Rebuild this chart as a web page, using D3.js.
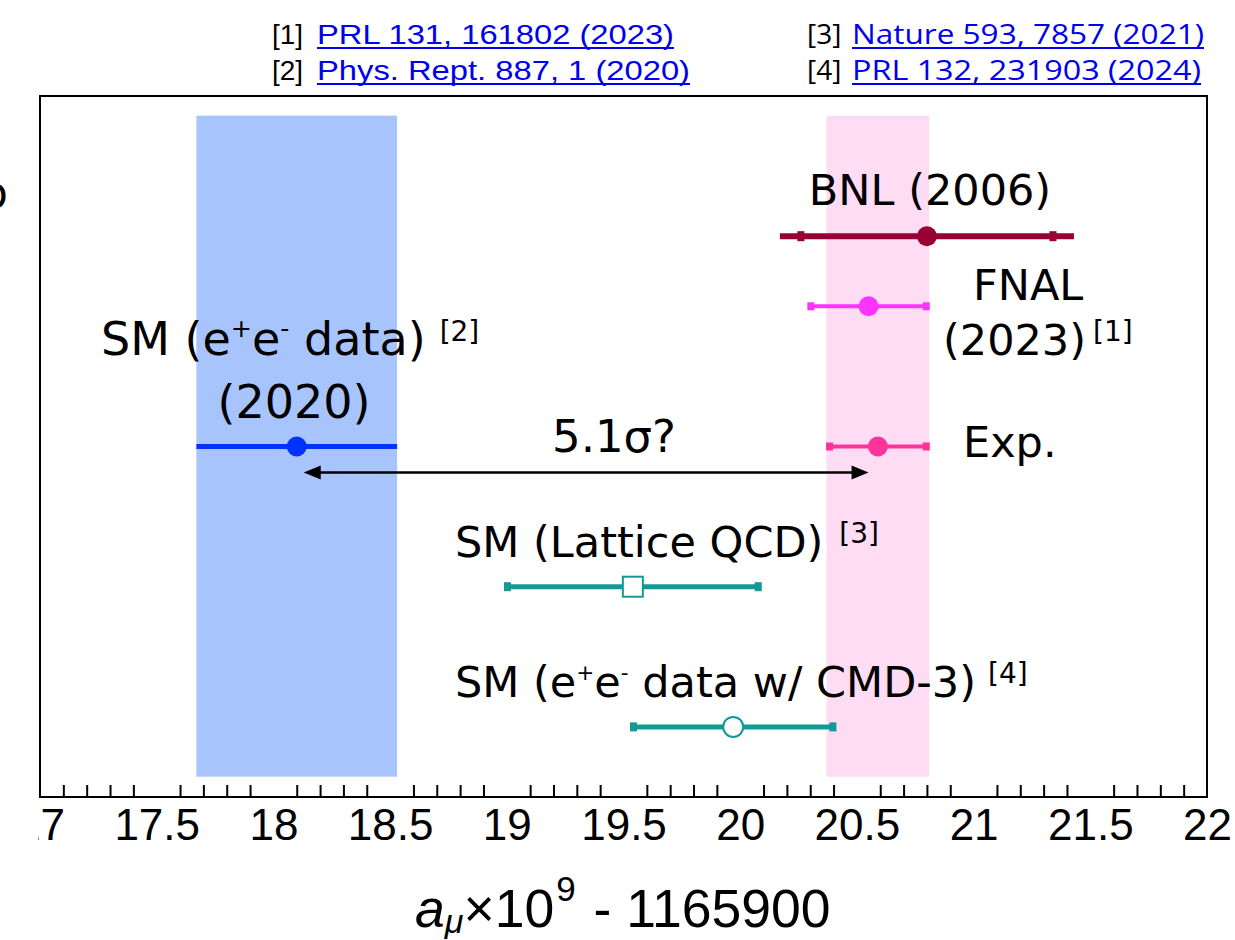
<!DOCTYPE html>
<html><head><meta charset="utf-8">
<script src="https://cdn.jsdelivr.net/npm/d3@7"></script>
<style>body{margin:0;background:#fff} svg{display:block}</style>
</head><body><svg id="c" width="1235" height="940"></svg>
<script>
// ---------- data ----------
const xDomain = [17, 22];
const majorTicks = [17, 17.5, 18, 18.5, 19, 19.5, 20, 20.5, 21, 21.5, 22];
const tickLabels = ["17", "17.5", "18", "18.5", "19", "19.5", "20", "20.5", "21", "21.5", "22"];
const seriesNames = ["BNL (2006)", "FNAL (2023)", "Exp.", "SM (e+e- data) (2020)", "SM (Lattice QCD)", "SM (e+e- data w/ CMD-3)"];
const centralValues = [20.80, 20.55, 20.59, 18.10, 19.54, 19.97];
const totalErrors   = [0.63, 0.26, 0.22, 0.43, 0.55, 0.44];
const statErrors    = [0.54, null, null, null, null, null];
const seriesRows    = [2, 3, 5, 5, 7, 9];
const bandCentral = [18.10, 20.59];
const bandErrors  = [0.43, 0.22];
const arrowEnds = [18.13, 20.55];
const refNumbers = ["[1]", "[2]", "[3]", "[4]"];
const refTexts = ["PRL 131, 161802 (2023)", "Phys. Rept. 887, 1 (2020)", "Nature 593, 7857 (2021)", "PRL 132, 231903 (2024)"];
const sigmaLabel = "5.1σ?";

// ---------- styles ----------
const seriesStyle = [
  {color: "#990033", lw: 6, r: 10, marker: "dot", endCaps: false},
  {color: "#ff33ff", lw: 4, r: 10, marker: "dot", endCaps: true},
  {color: "#ff3399", lw: 4, r: 10, marker: "dot", endCaps: true},
  {color: "#0033ff", lw: 5, r: 10, marker: "dot", endCaps: false},
  {color: "#139a96", lw: 5, r: 10, marker: "square", endCaps: true},
  {color: "#139a96", lw: 5, r: 10, marker: "ocircle", endCaps: true}
];
const bandColors = ["#a8c4fd", "#fddcf4"];
const labelFont = "'DejaVu Sans', 'Noto Sans', sans-serif";
const refFont = "'Open Sans', 'Noto Sans', sans-serif";
const axisFont = "'Liberation Sans', Arial, sans-serif";

const svg = d3.select("#c");
const L = 40, R = 1207, T = 96, B = 797;
const x = d3.scaleLinear().domain(xDomain).range([L, R]);
const y = d3.scaleLinear().domain([0, 10]).range([T, B]);

// bands
svg.append("g").selectAll("rect").data(bandCentral).join("rect")
  .attr("x", (d, i) => x(d - bandErrors[i]))
  .attr("width", (d, i) => x(d + bandErrors[i]) - x(d - bandErrors[i]))
  .attr("y", y(0.28)).attr("height", y(9.71) - y(0.28))
  .attr("fill", (d, i) => bandColors[i]);

// frame
svg.append("rect").attr("x", L).attr("y", T).attr("width", R - L).attr("height", B - T)
  .attr("fill", "none").attr("stroke", "#000").attr("stroke-width", 2);

// axis
svg.append("clipPath").attr("id", "clipL").append("rect")
  .attr("x", 38).attr("y", 0).attr("width", 1235).attr("height", 940);
const minor = x.ticks(50).filter(v => !majorTicks.some(m => Math.abs(m - v) < 1e-6));
const gMinor = svg.append("g").attr("transform", `translate(0,${B})`)
  .call(d3.axisBottom(x).tickValues(minor).tickSize(-12).tickFormat(""));
const gMajor = svg.append("g").attr("transform", `translate(0,${B})`).attr("clip-path", "url(#clipL)")
  .call(d3.axisBottom(x).tickValues(majorTicks).tickSize(-25).tickPadding(12)
    .tickFormat((d, i) => tickLabels[i]));
[gMinor, gMajor].forEach(g => {
  g.select(".domain").remove();
  g.selectAll(".tick line").attr("stroke", "#000").attr("stroke-width", 2);
  g.selectAll(".tick text").attr("font-family", axisFont).attr("font-size", 44).attr("fill", "#000");
});

// axis title
const at = svg.append("text").attr("x", 415).attr("y", 927)
  .attr("font-family", axisFont).attr("font-size", 53.5).attr("fill", "#000");
at.append("tspan").attr("font-style", "italic").text("a");
at.append("tspan").attr("font-style", "italic").attr("font-size", 34).attr("dy", 6).text("μ");
at.append("tspan").attr("dy", -6).text("×10");
at.append("tspan").attr("font-size", 35).attr("dx", 2).attr("dy", -26).text("9");
at.append("tspan").attr("dy", 26).attr("dx", 3).text(" - 1165900");

// error bars
const gS = svg.append("g");
centralValues.forEach((c, i) => {
  const st = seriesStyle[i];
  const yy = y(seriesRows[i]);
  const x0 = x(c - totalErrors[i]), x1 = x(c + totalErrors[i]);
  gS.append("line").attr("x1", x0).attr("x2", x1).attr("y1", yy).attr("y2", yy)
    .attr("stroke", st.color).attr("stroke-width", st.lw);
  const capX = st.endCaps ? [x0 + 3, x1 - 3] : [];
  if (statErrors[i] != null) capX.push(x(c - statErrors[i]), x(c + statErrors[i]));
  capX.forEach(cx => gS.append("rect").attr("x", cx - 3.5).attr("y", yy - st.lw / 2 - 2)
    .attr("width", 7).attr("height", st.lw + 4).attr("fill", st.color));
  if (st.marker === "dot") {
    gS.append("circle").attr("cx", x(c)).attr("cy", yy).attr("r", st.r).attr("fill", st.color);
  } else if (st.marker === "square") {
    gS.append("rect").attr("x", x(c) - 10).attr("y", yy - 10).attr("width", 20).attr("height", 20)
      .attr("fill", "#fff").attr("stroke", st.color).attr("stroke-width", 2);
  } else {
    gS.append("circle").attr("cx", x(c)).attr("cy", yy).attr("r", st.r)
      .attr("fill", "#fff").attr("stroke", st.color).attr("stroke-width", 2);
  }
});

// arrow
const ay = y(5) + 26;
const ax0 = x(arrowEnds[0]), ax1 = x(arrowEnds[1]);
svg.append("line").attr("x1", ax0 + 10).attr("x2", ax1 - 10).attr("y1", ay).attr("y2", ay)
  .attr("stroke", "#000").attr("stroke-width", 2.5);
svg.append("path").attr("d", `M${ax0},${ay} l17,-7 l0,14 z`).attr("fill", "#000");
svg.append("path").attr("d", `M${ax1},${ay} l-17,-7 l0,14 z`).attr("fill", "#000");

// labels
function label(parts, px, py, size, anchor, supScale) {
  const t = svg.append("text").attr("x", px).attr("y", py)
    .attr("font-family", labelFont).attr("font-size", size).attr("fill", "#000")
    .attr("text-anchor", anchor || "start");
  let shift = 0;
  parts.forEach(p => {
    const s = t.append("tspan").text(p[0]);
    const want = p[1] === "sup" ? -Math.round(size * 0.4) : 0;
    if (want !== shift) { s.attr("dy", want - shift); shift = want; }
    if (p[1] === "sup") s.attr("font-size", size * (supScale || 0.5));
  });
  return t;
}
function refMark(txt, host, gap, py) {
  const bb = host.node().getBBox();
  svg.append("text").attr("x", bb.x + bb.width + gap).attr("y", py).attr("font-family", labelFont)
    .attr("font-size", 28).attr("fill", "#000").text(txt);
}
const ee = [["e"], ["+", "sup"], ["e"], ["-", "sup"]];
const fs = 43;
label([["BNL (2006)"]], 930, 205, fs, "middle");
label([["FNAL"]], 973, 300, fs);
const t2023 = label([["(2023)"]], 943, 355, fs);
refMark(refNumbers[0], t2023, 7, 341);
const tSM = label([["SM ("], ...ee, [" data)"]], 101, 355, 46, "start", 0.55);
refMark(refNumbers[1], tSM, 14, 341);
label([["(2020)"]], 294, 418, 46, "middle");
label([[sigmaLabel]], 552, 452, 45);
label([["Exp."]], 963, 457, fs);
const tLat = label([["SM (Lattice QCD)"]], 455, 557, fs);
refMark(refNumbers[2], tLat, 16, 543);
const tCMD = label([["SM ("], ...ee, [" data w/ CMD-3)"]], 455, 697, fs);
refMark(refNumbers[3], tCMD, 12, 683);
// cut-off glyph at the left edge
svg.append("text").attr("x", 8).attr("y", 208).attr("text-anchor", "end")
  .attr("font-family", labelFont).attr("font-size", 44).text("o");

// references
const refPos = [[272, 317, 674, 44, "narrow"], [272, 317, 690, 80, "narrow"], [807, 852, 1204, 44, "open"], [807, 852, 1201, 80, "open"]];
refPos.forEach((p, i) => {
  const fam = p[4] === "narrow" ? "'Liberation Sans Narrow', 'Liberation Sans', Arial, sans-serif" : refFont;
  svg.append("text").attr("x", p[0]).attr("y", p[3]).attr("font-family", fam).attr("font-size", 28)
    .attr("fill", "#000").text(refNumbers[i]);
  svg.append("text").attr("x", p[1]).attr("y", p[3]).attr("font-family", fam).attr("font-size", 28)
    .attr("fill", "#0000ee").attr("textLength", p[2] - p[1]).attr("lengthAdjust", "spacingAndGlyphs")
    .text(refTexts[i]);
  svg.append("line").attr("x1", p[1]).attr("x2", p[2]).attr("y1", p[3] + 4).attr("y2", p[3] + 4)
    .attr("stroke", "#0000ee").attr("stroke-width", 1.8);
});
</script></body></html>
